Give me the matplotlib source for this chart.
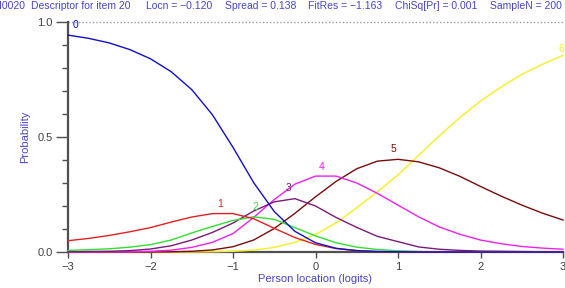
import matplotlib
matplotlib.use("Agg")
import matplotlib.pyplot as plt

# Person location grid (logits)
locations = [-3.0, -2.75, -2.5, -2.25, -2.0, -1.75, -1.5, -1.25, -1.0, -0.75, -0.5, -0.25,
             0.0, 0.25, 0.5, 0.75, 1.0, 1.25, 1.5, 1.75, 2.0, 2.25, 2.5, 2.75, 3.0]

cat0 = [0.943, 0.929, 0.909, 0.880, 0.840, 0.784, 0.706, 0.597, 0.455, 0.302, 0.176, 0.090,
        0.040, 0.016, 0.006, 0.002, 0.001, 0.0, 0.0, 0.0, 0.0, 0.0, 0.0, 0.0, 0.0]
cat1 = [0.049, 0.059, 0.072, 0.088, 0.106, 0.130, 0.152, 0.167, 0.167, 0.145, 0.103, 0.063,
        0.033, 0.015, 0.006, 0.002, 0.001, 0.0, 0.0, 0.0, 0.0, 0.0, 0.0, 0.0, 0.0]
cat2 = [0.007, 0.010, 0.014, 0.021, 0.032, 0.052, 0.083, 0.111, 0.137, 0.153, 0.142, 0.106,
        0.070, 0.040, 0.021, 0.011, 0.005, 0.002, 0.001, 0.001, 0.0, 0.0, 0.0, 0.0, 0.0]
cat3 = [0.001, 0.002, 0.003, 0.006, 0.013, 0.027, 0.052, 0.085, 0.126, 0.178, 0.218, 0.232,
        0.200, 0.150, 0.107, 0.068, 0.045, 0.022, 0.012, 0.007, 0.004, 0.003, 0.002, 0.001, 0.001]
cat4 = [0.0, 0.0, 0.001, 0.001, 0.003, 0.008, 0.020, 0.042, 0.080, 0.150, 0.228, 0.295,
        0.330, 0.330, 0.300, 0.255, 0.204, 0.153, 0.109, 0.077, 0.052, 0.036, 0.024, 0.017, 0.012]
cat5 = [0.0, 0.0, 0.0, 0.0, 0.0, 0.001, 0.003, 0.009, 0.023, 0.052, 0.102, 0.168,
        0.240, 0.307, 0.362, 0.395, 0.403, 0.392, 0.366, 0.329, 0.285, 0.243, 0.204, 0.169, 0.139]
cat6 = [0.0, 0.0, 0.0, 0.0, 0.0, 0.0, 0.0, 0.001, 0.003, 0.008, 0.020, 0.042,
        0.076, 0.127, 0.192, 0.262, 0.335, 0.420, 0.505, 0.585, 0.656, 0.718, 0.772, 0.816, 0.855]

categories = ["0", "1", "2", "3", "4", "5", "6"]
series = [cat0, cat1, cat2, cat3, cat4, cat5, cat6]
colors = ["#1010c8", "#e62020", "#30e030", "#7a1a7a", "#f020f0", "#7a0c0c", "#f5f020"]
label_pos = [(-2.91, 0.965), (-1.15, 0.185), (-0.73, 0.172), (-0.33, 0.255),
             (0.075, 0.349), (0.95, 0.428), (2.985, 0.862)]

x_ticks = [-3, -2, -1, 0, 1, 2, 3]
x_tick_labels = ["\u22123", "\u22122", "\u22121", "0", "1", "2", "3"]
y_ticks = [0.0, 0.5, 1.0]
y_tick_labels = ["0.0", "0.5", "1.0"]

title_parts = [("I0020", -1), ("Descriptor for item 20", 31), ("Locn = \u22120.120", 146),
               ("Spread = 0.138", 225), ("FitRes = \u22121.163", 308),
               ("ChiSq[Pr] = 0.001", 395), ("SampleN = 200", 490)]

W, H = 565, 288
text_blue = "#4646c8"
font = "Liberation Sans"
plt.rcParams["font.family"] = [font, "DejaVu Sans"]

fig = plt.figure(figsize=(W / 100, H / 100), dpi=100)
ax = fig.add_axes([68 / W, 36 / H, (563 - 68) / W, (252 - 22) / H])

for i in range(len(series) - 1, -1, -1):
    ax.plot(locations, series[i], color=colors[i], lw=1.0, clip_on=False,
            solid_joinstyle="round", zorder=3)
for i, (lx, ly) in enumerate(label_pos):
    ax.text(lx, ly, categories[i], color=colors[i], fontsize=7.5, ha="center",
            va="bottom", zorder=4)

ax.axhline(1.0, color="#9a9a9a", lw=1.0, ls=(0, (1, 1.5)), zorder=1, clip_on=False)

ax.set_xlim(-3, 3)
ax.set_ylim(0, 1)
ax.set_xticks(x_ticks)
ax.set_xticklabels(x_tick_labels)
ax.set_yticks(y_ticks)
ax.set_yticklabels(y_tick_labels)
ax.set_yticks([v / 10 for v in range(11)], minor=True)
for s in ["top", "right"]:
    ax.spines[s].set_visible(False)
for s in ["left", "bottom"]:
    ax.spines[s].set_color("#505050")
    ax.spines[s].set_linewidth(1.6)
ax.tick_params(axis="y", which="major", length=9, width=1.0, color="#505050",
               labelsize=8, labelcolor="#404040", pad=2)
ax.tick_params(axis="y", which="minor", length=4, width=1.0, color="#505050")
ax.tick_params(axis="x", which="major", length=4, width=1.0, color="#505050",
               labelsize=8, labelcolor="#404040", pad=3)

ax.set_xlabel("Person location (logits)", color=text_blue, fontsize=8, labelpad=2)
ax.set_ylabel("Probability", color=text_blue, fontsize=8, labelpad=5)

for txt, px in title_parts:
    fig.text(px / W, 1 - 6 / H, txt, color=text_blue, fontsize=7.5, ha="left", va="center")

fig.savefig("out.png", dpi=100)
